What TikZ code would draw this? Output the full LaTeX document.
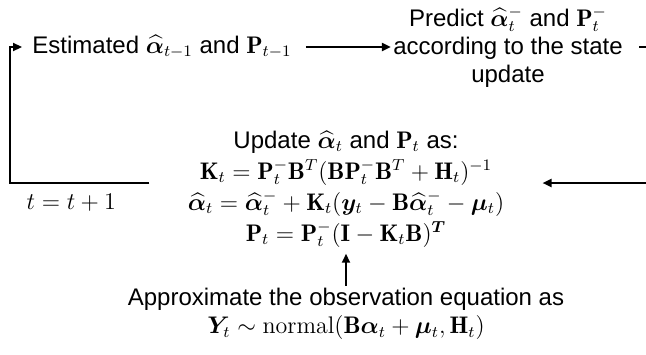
\documentclass[tikz,border=0pt]{standalone}
\usepackage{amsmath}
\usepackage{bm}
\usepackage{fontspec}
\newfontfamily\arialfont{Liberation Sans}
\usetikzlibrary{arrows.meta,positioning}
\tikzset{
  step_text/.style = {
    font=\arialfont\large,
    align=center,
    inner sep=1pt
  },
  flow_arrow/.style = {
    line width=1pt,
    -{Triangle[length=4.5pt,width=4pt]}
  }
}

\begin{document}
\begin{tikzpicture}[x=0.5pt, y=-0.5pt]
\useasboundingbox (0,0) rectangle (646,354);

% estimate from last step
\node[step_text, inner xsep=5pt] (est) at (162,47) {Estimated $\widehat{\bm\alpha}_{t-1}$ and $\mathbf{P}_{t-1}$};

% prediction
\node[step_text] (pred) at (508,47) {Predict $\widehat{\bm\alpha}_t^-$ and $\mathbf{P}_t^-$\\
  according to the state\\
  update};

% update step
\node[step_text, inner xsep=19pt, inner ysep=3pt] (upd) at (346,189) {Update $\widehat{\bm\alpha}_t$ and $\mathbf{P}_t$ as:\\[1.5pt]
  $\mathbf{K}_t=\mathbf{P}_t^-\mathbf{B}^T(\mathbf{B}\mathbf{P}_t^-\mathbf{B}^T+\mathbf{H}_t)^{-1}$\\[1.5pt]
  $\widehat{\bm\alpha}_t=\widehat{\bm\alpha}_t^-+\mathbf{K}_t(\bm{y}_t-\mathbf{B}\widehat{\bm\alpha}_t^--\bm\mu_t)$\\[1.5pt]
  $\mathbf{P}_t=\mathbf{P}_t^-(\mathbf{I}-\mathbf{K}_t\mathbf{B})^{\bm{T}}$};

% observation equation
\node[step_text] (approx) at (346,314) {Approximate the observation equation as\\
  $\bm{Y}_t\sim\mathrm{normal}(\mathbf{B}\bm\alpha_t+\bm\mu_t,\mathbf{H}_t)$};

% corners of the loop
\coordinate (lcorner) at (10,47);
\coordinate (rcorner) at (680,47);

% connections
\draw[flow_arrow, shorten <=2pt] (est) -- (pred);
\draw[flow_arrow] ([xshift=7pt]pred.east) -- (rcorner) |- ([yshift=3pt]upd.east);
\draw[flow_arrow] ([yshift=3pt]upd.west) -- node[pos=0.56, below=4pt, step_text] {$t=t+1$} ([yshift=3pt]upd.west -| lcorner) |- (est.west);
\draw[flow_arrow] (approx) -- (upd);

\end{tikzpicture}
\end{document}
